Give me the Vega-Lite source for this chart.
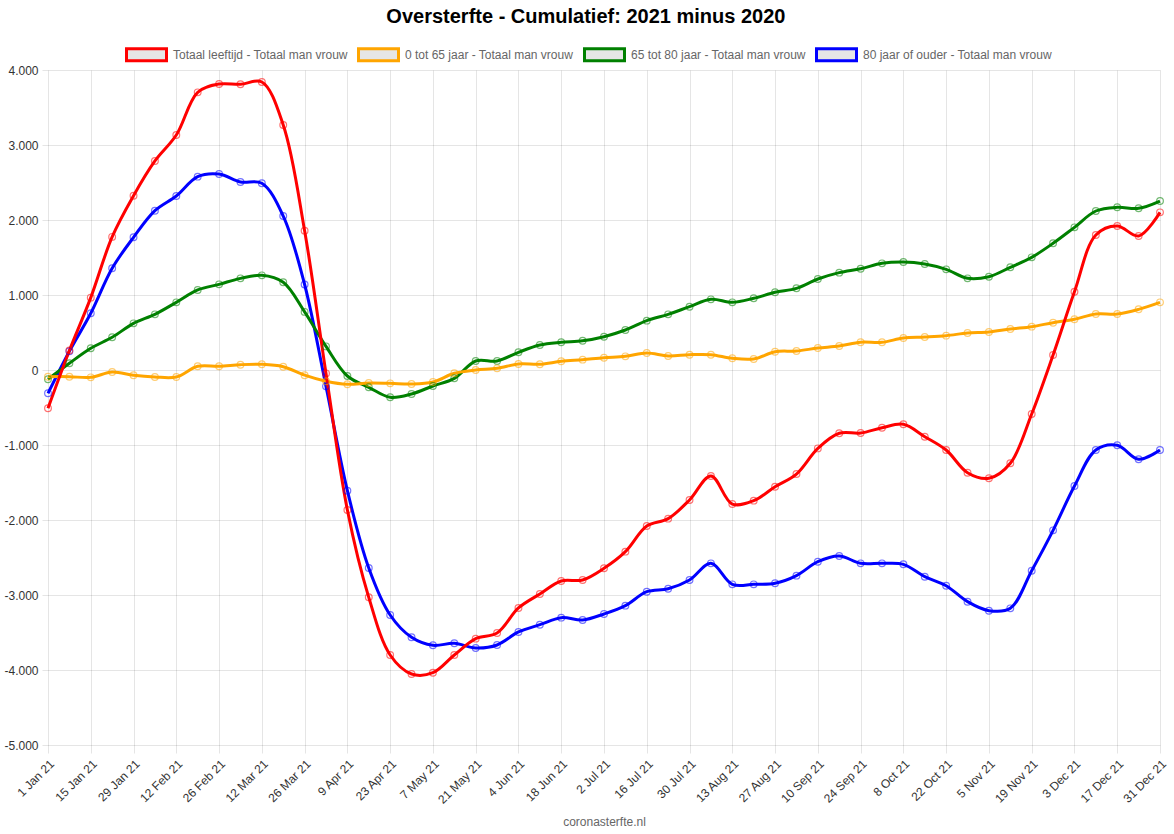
{
  "$schema": "https://vega.github.io/schema/vega-lite/v6.json",
  "autosize": {"type": "none"},
  "width": 1112,
  "height": 675,
  "padding": {"left": 48, "top": 70, "right": 14, "bottom": 89},
  "background": "white",
  "title": {"text": "Oversterfte - Cumulatief: 2021 minus 2020", "font": "Liberation Sans", "fontSize": 20, "fontWeight": "bold", "color": "#000000", "anchor": "middle", "frame": "bounds", "offset": 6},
  "data": {"values": [
    {"datum": "2021-01-01", "totaal": -510, "j0_65": -89, "j65_80": -124, "j80": -311},
    {"datum": "2021-01-08", "totaal": 260, "j0_65": -89, "j65_80": 89, "j80": 250},
    {"datum": "2021-01-15", "totaal": 965, "j0_65": -98, "j65_80": 289, "j80": 756},
    {"datum": "2021-01-22", "totaal": 1775, "j0_65": -27, "j65_80": 436, "j80": 1356},
    {"datum": "2021-01-29", "totaal": 2324, "j0_65": -71, "j65_80": 622, "j80": 1769},
    {"datum": "2021-02-05", "totaal": 2787, "j0_65": -93, "j65_80": 742, "j80": 2124},
    {"datum": "2021-02-12", "totaal": 3133, "j0_65": -93, "j65_80": 902, "j80": 2320},
    {"datum": "2021-02-19", "totaal": 3702, "j0_65": 49, "j65_80": 1067, "j80": 2578},
    {"datum": "2021-02-26", "totaal": 3813, "j0_65": 49, "j65_80": 1142, "j80": 2613},
    {"datum": "2021-03-05", "totaal": 3809, "j0_65": 71, "j65_80": 1222, "j80": 2507},
    {"datum": "2021-03-12", "totaal": 3840, "j0_65": 76, "j65_80": 1262, "j80": 2489},
    {"datum": "2021-03-19", "totaal": 3267, "j0_65": 44, "j65_80": 1169, "j80": 2053},
    {"datum": "2021-03-26", "totaal": 1858, "j0_65": -69, "j65_80": 775, "j80": 1140},
    {"datum": "2021-04-02", "totaal": -45, "j0_65": -150, "j65_80": 315, "j80": -218},
    {"datum": "2021-04-09", "totaal": -1867, "j0_65": -191, "j65_80": -80, "j80": -1609},
    {"datum": "2021-04-16", "totaal": -3031, "j0_65": -173, "j65_80": -231, "j80": -2640},
    {"datum": "2021-04-23", "totaal": -3800, "j0_65": -178, "j65_80": -364, "j80": -3267},
    {"datum": "2021-04-30", "totaal": -4053, "j0_65": -187, "j65_80": -320, "j80": -3564},
    {"datum": "2021-05-07", "totaal": -4036, "j0_65": -160, "j65_80": -213, "j80": -3671},
    {"datum": "2021-05-14", "totaal": -3800, "j0_65": -44, "j65_80": -111, "j80": -3644},
    {"datum": "2021-05-21", "totaal": -3582, "j0_65": 0, "j65_80": 120, "j80": -3707},
    {"datum": "2021-05-28", "totaal": -3507, "j0_65": 22, "j65_80": 120, "j80": -3667},
    {"datum": "2021-06-04", "totaal": -3173, "j0_65": 80, "j65_80": 236, "j80": -3493},
    {"datum": "2021-06-11", "totaal": -2987, "j0_65": 76, "j65_80": 333, "j80": -3396},
    {"datum": "2021-06-18", "totaal": -2813, "j0_65": 116, "j65_80": 369, "j80": -3302},
    {"datum": "2021-06-25", "totaal": -2800, "j0_65": 138, "j65_80": 389, "j80": -3333},
    {"datum": "2021-07-02", "totaal": -2644, "j0_65": 164, "j65_80": 444, "j80": -3253},
    {"datum": "2021-07-09", "totaal": -2422, "j0_65": 182, "j65_80": 533, "j80": -3142},
    {"datum": "2021-07-16", "totaal": -2080, "j0_65": 227, "j65_80": 658, "j80": -2956},
    {"datum": "2021-07-23", "totaal": -1982, "j0_65": 187, "j65_80": 742, "j80": -2916},
    {"datum": "2021-07-30", "totaal": -1733, "j0_65": 204, "j65_80": 844, "j80": -2800},
    {"datum": "2021-08-06", "totaal": -1413, "j0_65": 204, "j65_80": 942, "j80": -2578},
    {"datum": "2021-08-13", "totaal": -1787, "j0_65": 156, "j65_80": 902, "j80": -2858},
    {"datum": "2021-08-20", "totaal": -1742, "j0_65": 147, "j65_80": 956, "j80": -2858},
    {"datum": "2021-08-27", "totaal": -1556, "j0_65": 244, "j65_80": 1036, "j80": -2844},
    {"datum": "2021-09-03", "totaal": -1387, "j0_65": 253, "j65_80": 1089, "j80": -2742},
    {"datum": "2021-09-10", "totaal": -1045, "j0_65": 293, "j65_80": 1213, "j80": -2556},
    {"datum": "2021-09-17", "totaal": -844, "j0_65": 320, "j65_80": 1298, "j80": -2480},
    {"datum": "2021-09-24", "totaal": -840, "j0_65": 371, "j65_80": 1350, "j80": -2578},
    {"datum": "2021-10-01", "totaal": -770, "j0_65": 369, "j65_80": 1422, "j80": -2578},
    {"datum": "2021-10-08", "totaal": -724, "j0_65": 427, "j65_80": 1440, "j80": -2591},
    {"datum": "2021-10-15", "totaal": -889, "j0_65": 440, "j65_80": 1413, "j80": -2756},
    {"datum": "2021-10-22", "totaal": -1067, "j0_65": 458, "j65_80": 1342, "j80": -2876},
    {"datum": "2021-10-29", "totaal": -1369, "j0_65": 493, "j65_80": 1222, "j80": -3089},
    {"datum": "2021-11-05", "totaal": -1444, "j0_65": 507, "j65_80": 1244, "j80": -3209},
    {"datum": "2021-11-12", "totaal": -1244, "j0_65": 547, "j65_80": 1369, "j80": -3178},
    {"datum": "2021-11-19", "totaal": -587, "j0_65": 578, "j65_80": 1502, "j80": -2676},
    {"datum": "2021-11-26", "totaal": 200, "j0_65": 631, "j65_80": 1689, "j80": -2138},
    {"datum": "2021-12-03", "totaal": 1044, "j0_65": 676, "j65_80": 1902, "j80": -1547},
    {"datum": "2021-12-10", "totaal": 1800, "j0_65": 747, "j65_80": 2120, "j80": -1067},
    {"datum": "2021-12-17", "totaal": 1920, "j0_65": 747, "j65_80": 2169, "j80": -1004},
    {"datum": "2021-12-24", "totaal": 1787, "j0_65": 809, "j65_80": 2156, "j80": -1191},
    {"datum": "2021-12-31", "totaal": 2102, "j0_65": 902, "j65_80": 2253, "j80": -1067}
  ]},
  "transform": [{"fold": ["j80", "j65_80", "j0_65", "totaal"], "as": ["serie", "waarde"]}],
  "encoding": {
    "x": {
      "field": "datum", "type": "temporal",
      "scale": {"type": "utc", "nice": false, "domain": [{"year": 2021, "month": 1, "date": 1, "utc": true}, {"year": 2021, "month": 12, "date": 31, "utc": true}]},
      "axis": {
        "values": [
          {"year": 2021, "month": 1, "date": 1, "utc": true},
          {"year": 2021, "month": 1, "date": 15, "utc": true},
          {"year": 2021, "month": 1, "date": 29, "utc": true},
          {"year": 2021, "month": 2, "date": 12, "utc": true},
          {"year": 2021, "month": 2, "date": 26, "utc": true},
          {"year": 2021, "month": 3, "date": 12, "utc": true},
          {"year": 2021, "month": 3, "date": 26, "utc": true},
          {"year": 2021, "month": 4, "date": 9, "utc": true},
          {"year": 2021, "month": 4, "date": 23, "utc": true},
          {"year": 2021, "month": 5, "date": 7, "utc": true},
          {"year": 2021, "month": 5, "date": 21, "utc": true},
          {"year": 2021, "month": 6, "date": 4, "utc": true},
          {"year": 2021, "month": 6, "date": 18, "utc": true},
          {"year": 2021, "month": 7, "date": 2, "utc": true},
          {"year": 2021, "month": 7, "date": 16, "utc": true},
          {"year": 2021, "month": 7, "date": 30, "utc": true},
          {"year": 2021, "month": 8, "date": 13, "utc": true},
          {"year": 2021, "month": 8, "date": 27, "utc": true},
          {"year": 2021, "month": 9, "date": 10, "utc": true},
          {"year": 2021, "month": 9, "date": 24, "utc": true},
          {"year": 2021, "month": 10, "date": 8, "utc": true},
          {"year": 2021, "month": 10, "date": 22, "utc": true},
          {"year": 2021, "month": 11, "date": 5, "utc": true},
          {"year": 2021, "month": 11, "date": 19, "utc": true},
          {"year": 2021, "month": 12, "date": 3, "utc": true},
          {"year": 2021, "month": 12, "date": 17, "utc": true},
          {"year": 2021, "month": 12, "date": 31, "utc": true}
        ],
        "labelExpr": "utcFormat(datum.value, '%-d %b %y')",
        "labelAngle": -45, "labelAlign": "right", "labelBaseline": "top",
        "labelPadding": 5, "labelOverlap": false, "labelFlush": false,
        "labelFont": "Liberation Sans", "labelFontSize": 12, "labelColor": "#333333",
        "tickSize": 8, "tickColor": "rgba(0,0,0,0.1)", "domain": false,
        "grid": true, "gridColor": "rgba(0,0,0,0.1)",
        "title": "coronasterfte.nl", "titleFont": "Liberation Sans", "titleFontSize": 12, "titleFontWeight": "normal", "titleColor": "#666666",
        "titleY": 76, "titleBaseline": "middle"
      }
    },
    "y": {
      "field": "waarde", "type": "quantitative",
      "scale": {"domain": [-5000, 4000], "nice": false, "zero": false},
      "axis": {
        "values": [-5000, -4000, -3000, -2000, -1000, 0, 1000, 2000, 3000, 4000],
        "labelExpr": "(datum.value < 0 ? '-' : '') + replace(format(abs(datum.value), ','), ',', '.')",
        "labelFont": "Liberation Sans", "labelFontSize": 12, "labelColor": "#333333",
        "tickSize": 6, "labelPadding": 4, "tickColor": "rgba(0,0,0,0.1)", "domain": false,
        "grid": true, "gridColor": "rgba(0,0,0,0.1)", "title": null
      }
    },
    "color": {
      "field": "serie", "type": "nominal",
      "scale": {"domain": ["totaal", "j0_65", "j65_80", "j80"], "range": ["#ff0000", "#ffa500", "#008000", "#0000ff"]},
      "legend": {
        "orient": "none", "legendX": 77, "legendY": -37, "direction": "horizontal", "title": null,
        "symbolType": "M-1,-0.3H1V0.3H-1Z", "symbolSize": 1600, "symbolFillColor": "#e6e6e6", "symbolStrokeWidth": 3, "symbolOpacity": 1,
        "labelFont": "Liberation Sans", "labelFontSize": 12, "labelColor": "#666666", "labelLimit": 400,
        "labelOffset": 5, "columnPadding": 4,
        "labelExpr": "datum.label == 'totaal' ? 'Totaal leeftijd - Totaal man vrouw' : datum.label == 'j0_65' ? '0 tot 65 jaar - Totaal man vrouw' : datum.label == 'j65_80' ? '65 tot 80 jaar - Totaal man vrouw' : '80 jaar of ouder - Totaal man vrouw'",
        "encode": {"symbols": {"update": {"fill": {"value": "#e6e6e6"}, "strokeWidth": {"value": 3}, "opacity": {"value": 1}}}}
      }
    }
  },
  "layer": [
    {"mark": {"type": "line", "interpolate": "catmull-rom", "strokeWidth": 3}},
    {"mark": {"type": "point", "filled": false, "size": 45, "strokeWidth": 1.2, "opacity": 0.55}}
  ],
  "config": {"view": {"stroke": null}, "font": "Liberation Sans"}
}
